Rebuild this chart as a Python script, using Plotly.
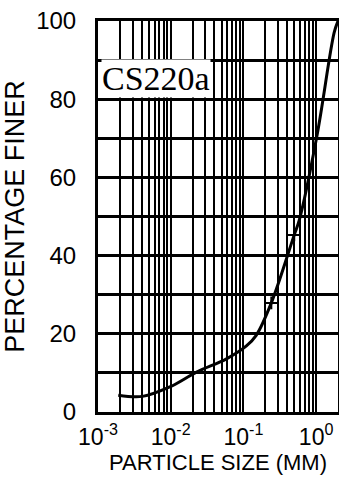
import plotly.graph_objects as go

# Data
size_mm = [0.0019, 0.0041, 0.0097, 0.0227, 0.0585, 0.11, 0.15, 0.242, 0.5, 0.585, 1.03, 1.77, 2.0]
pct_finer = [4.3, 4.0, 6.4, 10.2, 13.6, 16.9, 19.6, 27.9, 45.3, 49.0, 70.8, 97.0, 100.0]
mark_size = [0.242, 0.5]
mark_pct = [27.9, 45.3]

decades = [-3, -2, -1, 0]
x_tickvals = []
x_ticktext = []
for k in decades:
    for m in range(1, 10):
        v = m * 10 ** k
        if v > 2:
            break
        x_tickvals.append(v)
        x_ticktext.append(f"10<sup>{k}</sup>" if m == 1 else "")
y_tickvals = list(range(0, 101, 10))
y_ticktext = [str(v) if v % 20 == 0 else "" for v in y_tickvals]

sample_label = "CS220a"

fig = go.Figure()
fig.add_trace(go.Scatter(
    x=size_mm, y=pct_finer, mode="lines",
    line=dict(color="black", width=3, shape="spline", smoothing=1.0),
    showlegend=False, hoverinfo="skip", cliponaxis=False))
fig.add_trace(go.Scatter(
    x=mark_size, y=mark_pct, mode="markers",
    marker=dict(symbol="cross-thin", size=9, line=dict(color="black", width=2)),
    showlegend=False, hoverinfo="skip"))

fig.add_annotation(
    x=0, xref="paper", xanchor="left", xshift=3,
    y=85.3, yref="y", yanchor="middle",
    text=sample_label, showarrow=False,
    font=dict(family="Liberation Serif", size=34, color="black"),
    bgcolor="white", borderpad=0)

fig.update_xaxes(
    type="log", range=[-3, 0.301],
    tickvals=x_tickvals, ticktext=x_ticktext,
    tickfont=dict(family="Liberation Sans", size=23, color="black"),
    showgrid=True, gridcolor="black", gridwidth=2,
    showline=True, linecolor="black", linewidth=3, mirror=True,
    ticks="", ticklabelstandoff=2, automargin=False,
    title=dict(text="PARTICLE SIZE (MM)", standoff=2,
               font=dict(family="Liberation Sans", size=22, color="black")),
    zeroline=False)
fig.update_yaxes(
    range=[0, 100],
    tickvals=y_tickvals, ticktext=y_ticktext,
    tickfont=dict(family="Liberation Sans", size=24, color="black"),
    showgrid=True, gridcolor="black", gridwidth=3,
    showline=True, linecolor="black", linewidth=3, mirror=True,
    ticks="", ticklabelstandoff=14, automargin=False,
    title=dict(text="PERCENTAGE FINER", standoff=9,
               font=dict(family="Liberation Sans", size=27, color="black")),
    zeroline=False)

fig.update_layout(
    width=339, height=485,
    margin=dict(l=98, r=1, t=21, b=73, autoexpand=False),
    paper_bgcolor="white", plot_bgcolor="white",
)

fig.write_html(
    "out.html",
    config={"displayModeBar": False},
    post_script="document.body.style.margin='0';document.body.style.overflow='hidden';",
)
